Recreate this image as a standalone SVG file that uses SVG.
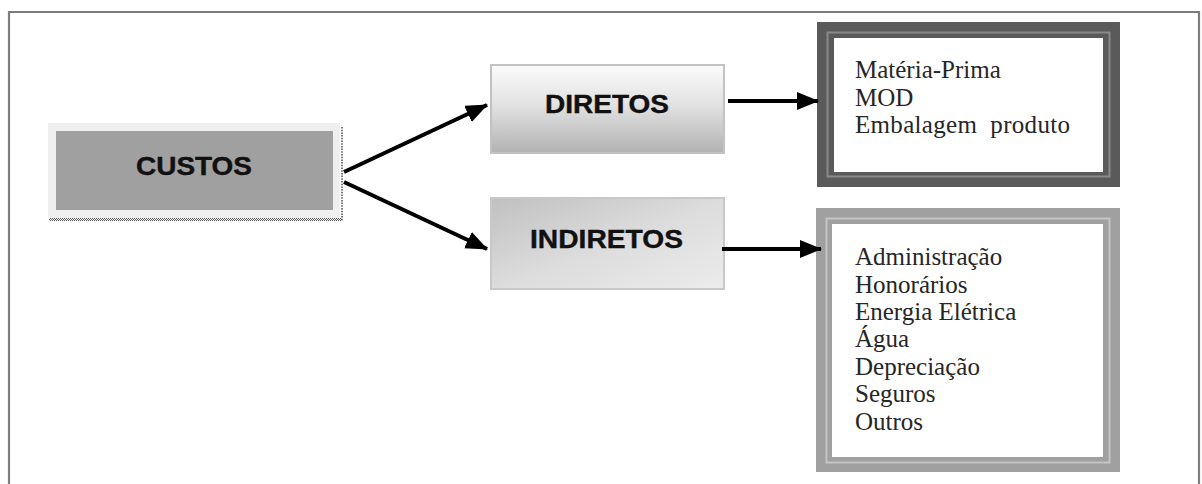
<svg xmlns="http://www.w3.org/2000/svg" width="1202" height="484" viewBox="0 0 1202 484">
  <style>
    .label { font-family: "Liberation Sans", Arial, sans-serif; font-weight: bold; fill: #111; stroke: #111; stroke-width: 0.4; }
    .item { font-family: "Liberation Serif", "Times New Roman", serif; font-size: 25px; fill: #262626; }
    .conn { stroke: #000; stroke-width: 4; fill: none; marker-end: url(#arrow); }
  </style>
  <defs>
    <marker id="arrow" markerUnits="userSpaceOnUse" markerWidth="24" markerHeight="20" refX="21" refY="9" orient="auto">
      <path d="M0,0 L22,9 L0,18 Z" fill="#000"/>
    </marker>
    <linearGradient id="gradDiretos" x1="0" y1="0" x2="0" y2="1">
      <stop offset="0" stop-color="#fbfbfb"/>
      <stop offset="0.45" stop-color="#e2e2e2"/>
      <stop offset="1" stop-color="#b2b2b2"/>
    </linearGradient>
    <linearGradient id="gradIndiretos" x1="0" y1="0" x2="1" y2="1">
      <stop offset="0" stop-color="#c0c0c0"/>
      <stop offset="0.5" stop-color="#dcdcdc"/>
      <stop offset="1" stop-color="#ececec"/>
    </linearGradient>
    <pattern id="checker" width="2" height="2" patternUnits="userSpaceOnUse">
      <rect width="2" height="2" fill="#ffffff"/>
      <rect width="1" height="1" fill="#555"/>
      <rect x="1" y="1" width="1" height="1" fill="#555"/>
    </pattern>
  </defs>

  <rect width="1202" height="484" fill="#ffffff"/>

  <!-- outer frame (bottom edge runs past the page) -->
  <path d="M9,490 L9,12 L1199,12 L1199,490" fill="none" stroke="#7d7d7d" stroke-width="2.2"/>

  <!-- root node -->
  <g id="custos">
    <rect x="48" y="123" width="292" height="95" fill="#efefef"/>
    <rect x="49" y="218" width="293" height="3" fill="url(#checker)"/>
    <line x1="342" y1="127" x2="342" y2="221" stroke="#333" stroke-width="1.3" stroke-dasharray="1.5 1.2"/>
    <rect x="56" y="131" width="277" height="79" fill="#a0a0a0"/>
    <text class="label" x="136" y="175" font-size="25" textLength="116" lengthAdjust="spacingAndGlyphs">CUSTOS</text>
  </g>

  <g id="diretos">
    <rect x="491" y="65" width="233" height="88" fill="url(#gradDiretos)" stroke="#c2c2c2" stroke-width="2"/>
    <text class="label" x="545" y="113" font-size="25" textLength="124" lengthAdjust="spacingAndGlyphs">DIRETOS</text>
  </g>

  <g id="indiretos">
    <rect x="491" y="198" width="233" height="91" fill="url(#gradIndiretos)" stroke="#c8c8c8" stroke-width="2"/>
    <text class="label" x="530" y="248" font-size="26" textLength="153" lengthAdjust="spacingAndGlyphs">INDIRETOS</text>
  </g>

  <g id="lista-diretos">
    <rect x="817" y="22" width="303" height="165" fill="#5a5a5a"/>
    <rect x="827.5" y="32.5" width="282" height="144" fill="none" stroke="#8a8a8a" stroke-width="2"/>
    <rect x="834" y="38" width="269" height="134" fill="#ffffff"/>
    <text class="item" x="855" y="78">Matéria-Prima</text>
    <text class="item" x="855" y="106">MOD</text>
    <text class="item" x="855" y="133" xml:space="preserve" textLength="215">Embalagem  produto</text>
  </g>

  <g id="lista-indiretos">
    <rect x="816" y="208" width="304" height="264" fill="#a0a0a0"/>
    <rect x="826.5" y="218.5" width="283" height="244" fill="none" stroke="#c4c4c4" stroke-width="2"/>
    <rect x="832" y="224" width="271" height="233" fill="#ffffff"/>
    <text class="item" x="855" y="265">Administração</text>
    <text class="item" x="855" y="293">Honorários</text>
    <text class="item" x="855" y="320">Energia Elétrica</text>
    <text class="item" x="855" y="347">Água</text>
    <text class="item" x="855" y="375">Depreciação</text>
    <text class="item" x="855" y="402">Seguros</text>
    <text class="item" x="855" y="430">Outros</text>
  </g>

  <g id="connectors">
    <line class="conn" x1="344" y1="172" x2="487" y2="105"/>
    <line class="conn" x1="344" y1="182" x2="487" y2="249"/>
    <line class="conn" x1="728" y1="101" x2="818" y2="101"/>
    <line class="conn" x1="722" y1="249" x2="821" y2="249"/>
  </g>
</svg>
